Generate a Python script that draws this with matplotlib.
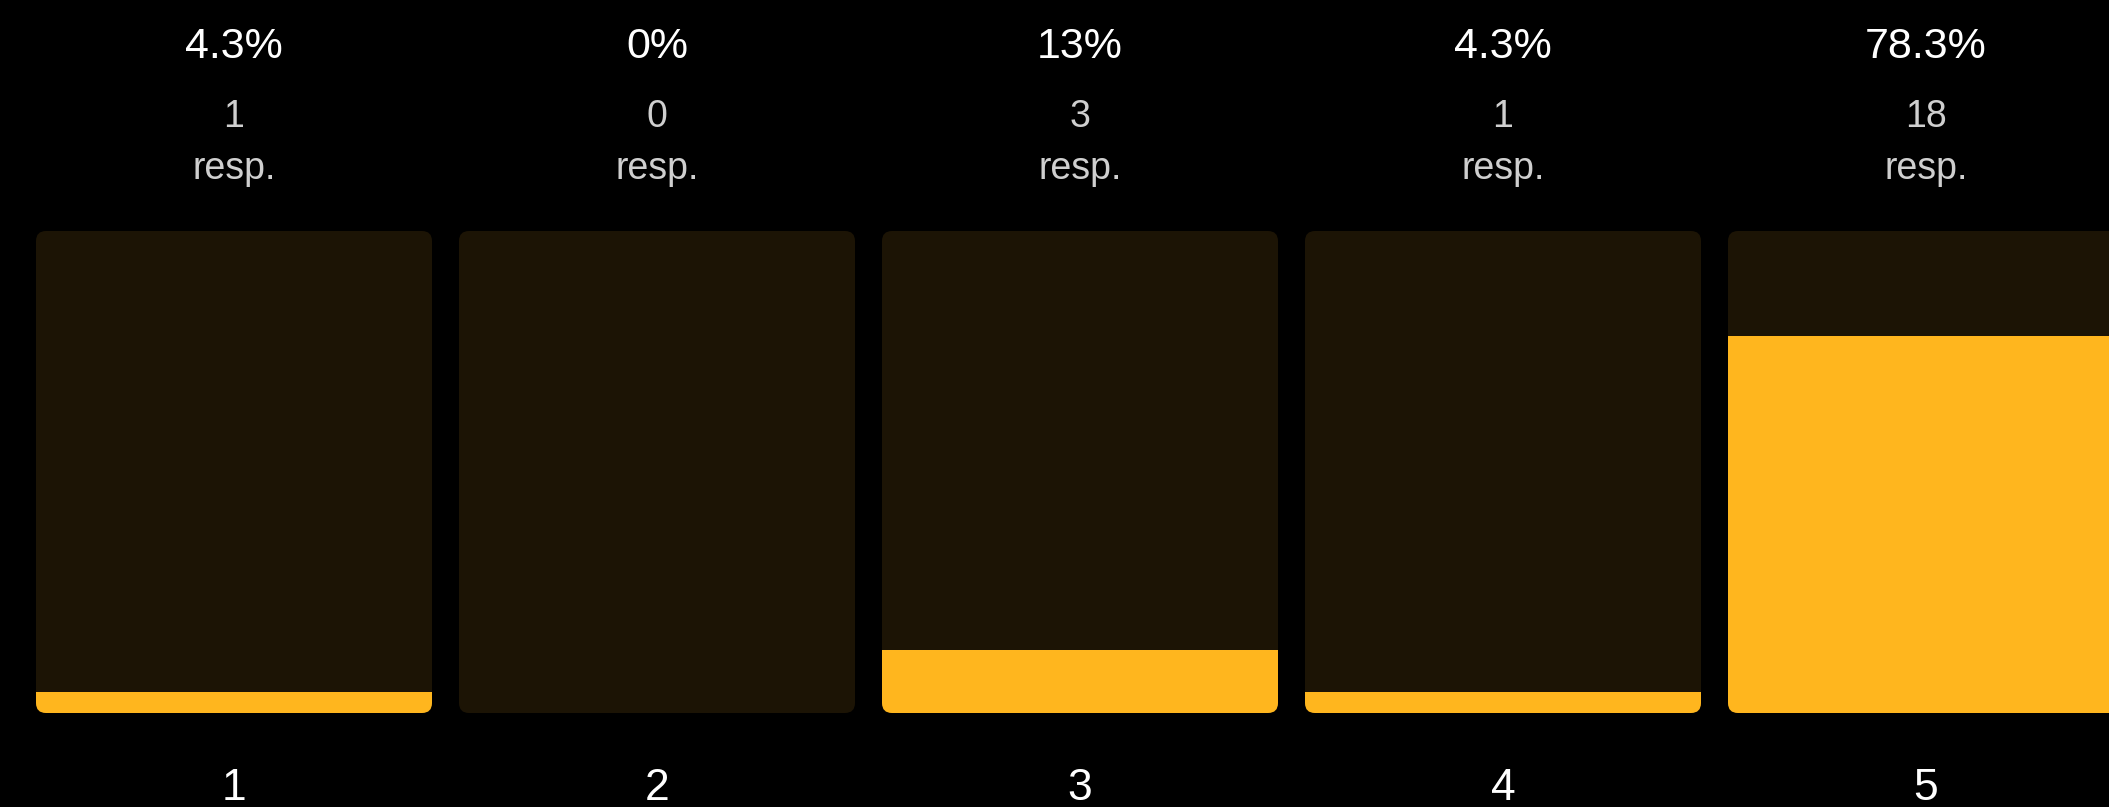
"""
Rating distribution: rounded bars with fill level, labels above
"""

import matplotlib
matplotlib.use("Agg")
import matplotlib.pyplot as plt
from matplotlib.patches import FancyBboxPatch

# data
ratings = ["1", "2", "3", "4", "5"]
percents = [4.3, 0, 13, 4.3, 78.3]
counts = [1, 0, 3, 1, 18]

BG = "#000000"
TRACK = "#1c1405"
FILL = "#ffb61e"
GREY = "#cfcfcf"

plt.rcParams["font.family"] = ["Liberation Sans", "DejaVu Sans"]

W, H, DPI = 2109, 807, 100
fig = plt.figure(figsize=(W / DPI, H / DPI), dpi=DPI, facecolor=BG)

# axes box spans the bar area in pixels
bar_top, bar_bot = 231, 713
pitch, first_center = 423, 234
ax = fig.add_axes([0, (H - bar_bot) / H, 1, (bar_bot - bar_top) / H])
ax.set_facecolor(BG)
ax.set_xlim(-first_center / pitch, (W - first_center) / pitch)
ax.set_ylim(0, 100)
ax.axis("off")

px_x = pitch              # pixels per x unit
px_y = (bar_bot - bar_top) / 100  # pixels per y unit
width = 396 / pitch
radius = 10 / px_x
aspect = px_x / px_y

x = list(range(len(ratings)))

tracks = []
for xi in x:
    p = FancyBboxPatch((xi - width / 2, 0), width, 100,
                       boxstyle=f"round,pad=0,rounding_size={radius}",
                       mutation_aspect=aspect,
                       facecolor=TRACK, edgecolor="none", zorder=1)
    ax.add_patch(p)
    tracks.append(p)

bars = ax.bar(x, percents, width=width, color=FILL, linewidth=0, zorder=2)
for b, t in zip(bars, tracks):
    b.set_clip_path(t)

def to_y(py):
    return (bar_bot - py) / px_y

for xi, pct, n, lab in zip(x, percents, counts, ratings):
    ax.text(xi, to_y(58), f"{pct:g}%", ha="center", va="baseline",
            fontsize=31, color="white", clip_on=False)
    ax.text(xi, to_y(127), str(n), ha="center", va="baseline",
            fontsize=27, color=GREY, clip_on=False)
    ax.text(xi, to_y(179), "resp.", ha="center", va="baseline",
            fontsize=27, color=GREY, clip_on=False)
    ax.text(xi, to_y(800), lab, ha="center", va="baseline",
            fontsize=32, color="white", clip_on=False)

fig.savefig("out.png", dpi=DPI, facecolor=BG)
